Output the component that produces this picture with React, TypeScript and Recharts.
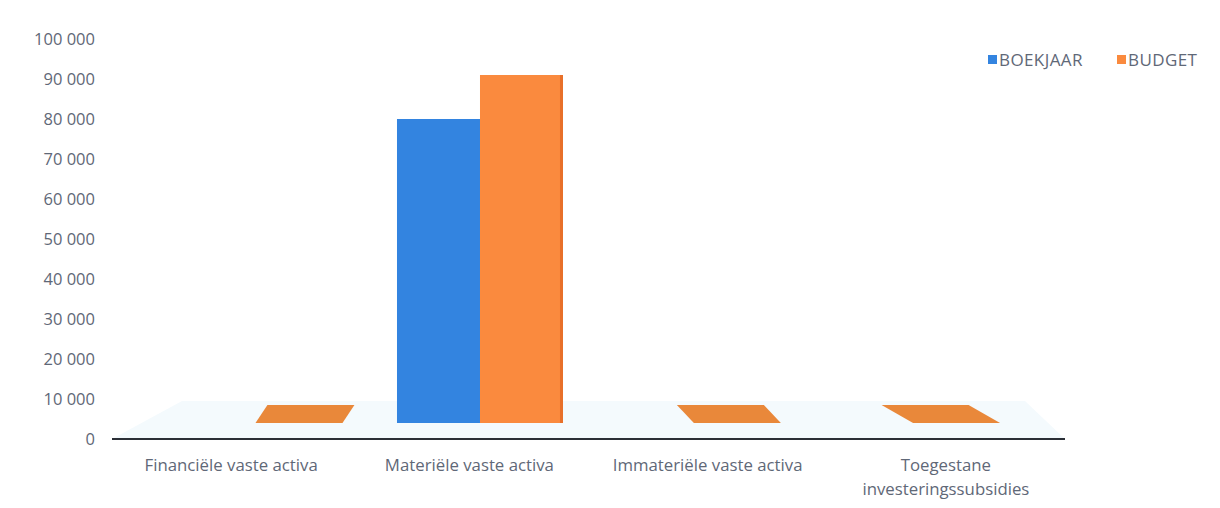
import React from 'react';
import { BarChart, Bar, XAxis, YAxis, ReferenceArea, Text } from 'recharts';

// categorieën en waarden
const categories = [
  'Financiële vaste activa',
  'Materiële vaste activa',
  'Immateriële vaste activa',
  'Toegestane investeringssubsidies',
];
const boekjaar: (number | null)[] = [null, 76000, null, null];
const budget: number[] = [0, 87000, 0, 0];
const yTicks = [0, 10000, 20000, 30000, 40000, 50000, 60000, 70000, 80000, 90000, 100000];

const data = categories.map((name, i) => ({
  name,
  boekjaar: boekjaar[i],
  budget: budget[i],
}));

const BLUE = '#3384e0';
const ORANGE = '#fa8a3e';
const FLAT = '#e9883a';
const TEXT = '#5f6877';
const FONT = '"Open Sans", sans-serif';

// diepte-verschuiving van het 3D-effect
const DEPTH = 18;
const SHIFT_X = 11;
const VANISH_X = 480;

const fmt = (v: number) => String(v).replace(/\B(?=(\d{3})+(?!\d))/g, ' ');

// kolom met kleine 3D-verschuiving; nulwaarden als plat vlak
const Column3D = (props: any) => {
  const { x, y, width, height, fill, value } = props;
  if (value == null) return null;
  const bx = x + SHIFT_X;
  const base = y + height - DEPTH + 2;
  if (!height || height < 1) {
    const cx0 = bx + width / 2;
    const cx = VANISH_X + (cx0 - VANISH_X) * 0.92;
    const w = width + 4;
    const skew = (VANISH_X - cx) * 0.066;
    const pts = [
      [cx - w / 2, base],
      [cx + w / 2, base],
      [cx + w / 2 + skew, base - DEPTH],
      [cx - w / 2 + skew, base - DEPTH],
    ];
    return <polygon points={pts.map((p) => p.join(',')).join(' ')} fill={FLAT} />;
  }
  return (
    <g>
      <rect x={bx} y={y - DEPTH + 2} width={width} height={height} fill={fill} />
      {fill === ORANGE && (
        <rect x={bx + width - 3} y={y - DEPTH + 2} width={3} height={height} fill="#e8702a" />
      )}
    </g>
  );
};

// vloer van de 3D-grafiek
const Floor = (props: any) => {
  const { x, y, width, height } = props;
  const front = y + height;
  const back = front - 38;
  const pts = [
    [x, front],
    [x + width, front],
    [x + width - 40, back],
    [x + 70, back],
  ];
  return <polygon points={pts.map((p) => p.join(',')).join(' ')} fill="#f4fafd" />;
};

const CategoryTick = (props: any) => {
  const { x, y, payload } = props;
  return (
    <Text
      x={x}
      y={y + 12}
      width={205}
      textAnchor="middle"
      verticalAnchor="start"
      fill={TEXT}
      fontSize={16.8}
      fontFamily={FONT}
      lineHeight={24}
    >
      {payload.value}
    </Text>
  );
};

const legendItems = [
  { label: 'BOEKJAAR', color: BLUE, left: 988 },
  { label: 'BUDGET', color: ORANGE, left: 1117 },
];

export default function App() {
  return (
    <div style={{ position: 'fixed', left: 0, top: 0, width: 1220, height: 508, background: '#fff' }}>
      <BarChart
        width={1220}
        height={508}
        data={data}
        margin={{ top: 39, right: 155, bottom: 39, left: 0 }}
        barGap={0}
        barCategoryGap="15%"
      >
        <ReferenceArea y1={0} y2={10000} fill="#f4fafd" shape={<Floor />} ifOverflow="visible" />
        <XAxis
          dataKey="name"
          interval={0}
          height={30}
          tick={<CategoryTick />}
          tickLine={false}
          axisLine={{ stroke: '#2b2f36', strokeWidth: 2 }}
        />
        <YAxis
          width={112}
          domain={[0, 100000]}
          ticks={yTicks}
          tickFormatter={fmt}
          axisLine={false}
          tickLine={false}
          tickMargin={11}
          tick={{ fill: TEXT, fontSize: 16.5, fontFamily: FONT }}
        />
        <Bar dataKey="boekjaar" name="BOEKJAAR" fill={BLUE} shape={<Column3D />} isAnimationActive={false} />
        <Bar dataKey="budget" name="BUDGET" fill={ORANGE} shape={<Column3D />} isAnimationActive={false} />
      </BarChart>
      {legendItems.map((item) => (
        <div
          key={item.label}
          style={{
            position: 'absolute',
            left: item.left,
            top: 48,
            display: 'flex',
            alignItems: 'center',
            fontFamily: FONT,
            fontSize: 17,
            letterSpacing: 0.4,
            color: TEXT,
          }}
        >
          <span style={{ width: 9, height: 9, background: item.color, marginRight: 2, display: 'inline-block' }} />
          {item.label}
        </div>
      ))}
    </div>
  );
}
